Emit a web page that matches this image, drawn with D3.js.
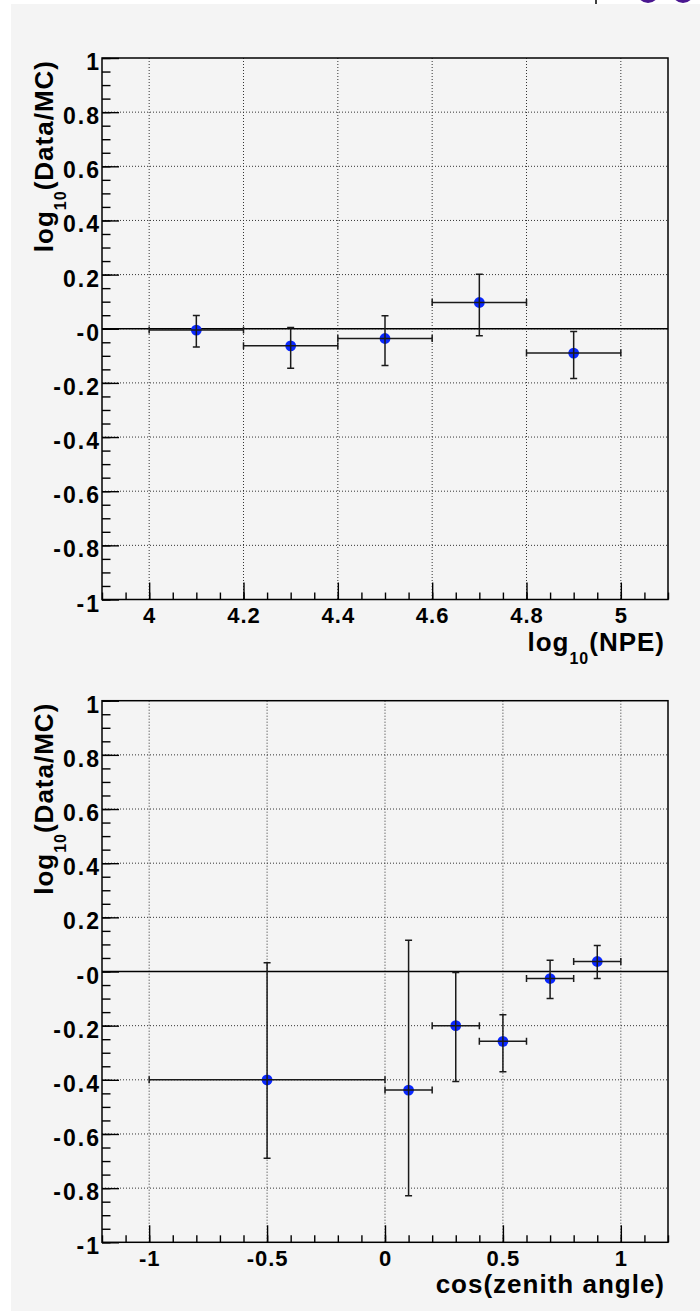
<!DOCTYPE html>
<html>
<head>
<meta charset="utf-8">
<script src="https://cdn.jsdelivr.net/npm/d3@7"></script>
<style>
  html, body { margin: 0; padding: 0; background: #ffffff; }
  svg { display: block; }
  .tickText { font-family: "Liberation Sans", Arial, sans-serif; font-weight: bold; font-size: 22px; letter-spacing: 1px; fill: #000; }
  .tickText.yLab { font-size: 23px; letter-spacing: 2px; }
  .axisTitle { font-family: "Liberation Sans", Arial, sans-serif; font-weight: bold; font-size: 26px; letter-spacing: 1px; fill: #000; }
</style>
</head>
<body>
<div id="chart"></div>
<script>
// --- top panel: ratio vs log10(NPE) ---
const npeX = [4.1, 4.3, 4.5, 4.7, 4.9];
const npeXErr = [0.1, 0.1, 0.1, 0.1, 0.1];
const npeY = [-0.005, -0.063, -0.036, 0.097, -0.09];
const npeErrUp = [0.054, 0.068, 0.084, 0.104, 0.08];
const npeErrDown = [0.062, 0.083, 0.1, 0.123, 0.094];
const npeXTicks = [4, 4.2, 4.4, 4.6, 4.8, 5];
const npeXTickLabels = ["4", "4.2", "4.4", "4.6", "4.8", "5"];

// --- bottom panel: ratio vs cos(zenith) ---
const cosX = [-0.5, 0.1, 0.3, 0.5, 0.7, 0.9];
const cosXErr = [0.5, 0.1, 0.1, 0.1, 0.1, 0.1];
const cosY = [-0.4, -0.438, -0.2, -0.258, -0.026, 0.037];
const cosErrUp = [0.432, 0.553, 0.196, 0.098, 0.068, 0.059];
const cosErrDown = [0.29, 0.39, 0.206, 0.112, 0.074, 0.063];
const cosXTicks = [-1, -0.5, 0, 0.5, 1];
const cosXTickLabels = ["-1", "-0.5", "0", "0.5", "1"];

// shared y axis
const yTicks = [-1, -0.8, -0.6, -0.4, -0.2, 0, 0.2, 0.4, 0.6, 0.8, 1];
const yTickLabels = ["-1", "-0.8", "-0.6", "-0.4", "-0.2", "-0", "0.2", "0.4", "0.6", "0.8", "1"];

const W = 700, H = 1311;

class RatioPanel {
    constructor(svg, cfg) {
        this.svg = svg;
        this.cfg = cfg;
        this.left = 102;
        this.right = 668;
        this.majorLen = 17;
        this.minorLen = 8.5;
    }

    render() {
        const c = this.cfg;
        const g = this.svg.append('g');
        const x = d3.scaleLinear().domain(c.xDomain).range([this.left, this.right]);
        const y = d3.scaleLinear().domain([-1, 1]).range([c.bottom, c.top]);

        // dotted grid
        g.append('g').selectAll('line.vgrid').data(c.xTicks).enter().append('line')
            .attr('x1', d => x(d)).attr('x2', d => x(d))
            .attr('y1', c.top).attr('y2', c.bottom)
            .attr('stroke', '#333').attr('stroke-width', 1).attr('stroke-dasharray', '1,2');
        g.append('g').selectAll('line.hgrid').data(yTicks.filter(d => Math.abs(d) < 1)).enter().append('line')
            .attr('x1', this.left).attr('x2', this.right)
            .attr('y1', d => y(d)).attr('y2', d => y(d))
            .attr('stroke', '#333').attr('stroke-width', 1).attr('stroke-dasharray', '1,2');

        // minor ticks (no labels)
        const yMinor = d3.range(-1, 1.0001, 0.05);
        g.append('g').attr('transform', `translate(${this.left},0)`)
            .call(d3.axisLeft(y).tickValues(yMinor).tickSizeInner(-this.minorLen).tickSizeOuter(0).tickFormat(''))
            .call(s => s.select('.domain').remove())
            .selectAll('line').attr('stroke', '#000').attr('stroke-width', 1.4);
        const xMinor = d3.range(c.xDomain[0], c.xDomain[1] + 1e-6, c.xMinorStep);
        g.append('g').attr('transform', `translate(0,${c.bottom})`)
            .call(d3.axisBottom(x).tickValues(xMinor).tickSizeInner(-this.minorLen * 0.82).tickSizeOuter(0).tickFormat(''))
            .call(s => s.select('.domain').remove())
            .selectAll('line').attr('stroke', '#000').attr('stroke-width', 1.4);

        // major ticks with labels
        const yAxis = g.append('g').attr('transform', `translate(${this.left},0)`)
            .call(d3.axisLeft(y).tickValues(yTicks).tickSizeInner(-this.majorLen).tickSizeOuter(0).tickPadding(1)
                .tickFormat((d, i) => yTickLabels[i]));
        yAxis.select('.domain').remove();
        yAxis.selectAll('line').attr('stroke', '#000').attr('stroke-width', 1.4);
        yAxis.selectAll('text').attr('class', 'tickText yLab').attr('dy', '0.5em');

        const xAxis = g.append('g').attr('transform', `translate(0,${c.bottom})`)
            .call(d3.axisBottom(x).tickValues(c.xTicks).tickSizeInner(-this.majorLen).tickSizeOuter(0).tickPadding(8)
                .tickFormat((d, i) => c.xTickLabels[i]));
        xAxis.select('.domain').remove();
        xAxis.selectAll('line').attr('stroke', '#000').attr('stroke-width', 1.4);
        xAxis.selectAll('text').attr('class', 'tickText');

        // frame
        g.append('rect')
            .attr('x', this.left).attr('y', c.top)
            .attr('width', this.right - this.left).attr('height', c.bottom - c.top)
            .attr('fill', 'none').attr('stroke', '#000').attr('stroke-width', 1.5);

        // zero line
        g.append('line')
            .attr('x1', this.left).attr('x2', this.right)
            .attr('y1', y(0)).attr('y2', y(0))
            .attr('stroke', '#000').attr('stroke-width', 1.5);

        // points
        const pts = c.xs.map((xv, i) => ({x: xv, ex: c.xErr[i], y: c.ys[i], up: c.up[i], dn: c.down[i]}));
        g.append('g').selectAll('circle').data(pts).enter().append('circle')
            .attr('cx', d => x(d.x)).attr('cy', d => y(d.y)).attr('r', 5.4)
            .attr('fill', '#0a28ff');

        const cap = 3.5;
        const err = g.append('g').attr('stroke', '#1a1a1a').attr('stroke-width', 1.5).attr('fill', 'none');
        pts.forEach(d => {
            const cx = x(d.x), cy = y(d.y);
            const xl = x(d.x - d.ex), xr = x(d.x + d.ex);
            const yt = y(d.y + d.up), yb = y(d.y - d.dn);
            err.append('path').attr('d',
                `M${xl},${cy}H${xr}` +
                `M${xl},${cy - cap}V${cy + cap}M${xr},${cy - cap}V${cy + cap}` +
                `M${cx},${yt}V${yb}` +
                `M${cx - cap},${yt}H${cx + cap}M${cx - cap},${yb}H${cx + cap}`);
        });

        // y title (rotated, aligned to top of frame)
        const yt = g.append('text').attr('class', 'axisTitle')
            .attr('transform', `translate(53,${c.top + 2}) rotate(-90)`)
            .attr('text-anchor', 'end');
        yt.append('tspan').text('log');
        yt.append('tspan').attr('dy', 13).style('font-size', '16px').text('10');
        yt.append('tspan').attr('dy', -13).text('(Data/MC)');

        // x title (right aligned)
        const xt = g.append('text').attr('class', 'axisTitle')
            .attr('x', 665).attr('y', c.bottom + 51)
            .attr('text-anchor', 'end');
        c.xTitle.forEach(p => {
            const t = xt.append('tspan').text(p.text);
            if (p.sub) t.attr('dy', 13).style('font-size', '16px');
            if (p.after) t.attr('dy', -13);
        });
    }
}

const svg = d3.select('#chart').append('svg')
    .attr('width', W).attr('height', H);

// canvas background (white strip on top / left edge like the original crop)
svg.append('rect').attr('width', W).attr('height', H).attr('fill', '#ffffff');
svg.append('rect').attr('x', 11).attr('y', 4).attr('width', W - 11).attr('height', H - 4).attr('fill', '#f4f4f4');
svg.append('line').attr('x1', 596).attr('x2', 596).attr('y1', 0).attr('y2', 4).attr('stroke', '#000').attr('stroke-width', 1.5);
svg.append('circle').attr('cx', 648).attr('cy', -8).attr('r', 11).attr('fill', '#4a1790');
svg.append('circle').attr('cx', 683).attr('cy', -8).attr('r', 11).attr('fill', '#4a1790');

new RatioPanel(svg, {
    top: 58, bottom: 599.5,
    xDomain: [3.9, 5.1], xMinorStep: 0.05,
    xTicks: npeXTicks, xTickLabels: npeXTickLabels,
    xs: npeX, xErr: npeXErr, ys: npeY, up: npeErrUp, down: npeErrDown,
    xTitle: [{text: 'log'}, {text: '10', sub: true}, {text: '(NPE)', after: true}]
}).render();

new RatioPanel(svg, {
    top: 700.7, bottom: 1242.3,
    xDomain: [-1.2, 1.2], xMinorStep: 0.1,
    xTicks: cosXTicks, xTickLabels: cosXTickLabels,
    xs: cosX, xErr: cosXErr, ys: cosY, up: cosErrUp, down: cosErrDown,
    xTitle: [{text: 'cos(zenith angle)'}]
}).render();
</script>
</body>
</html>
